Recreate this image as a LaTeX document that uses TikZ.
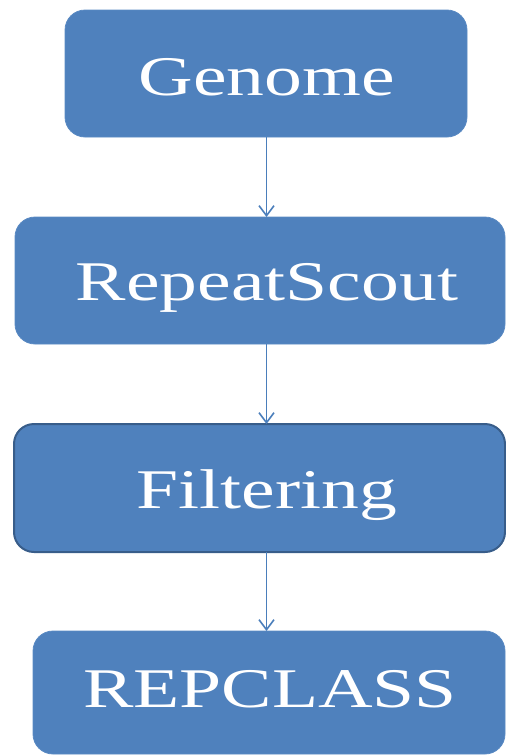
\documentclass[tikz,border=0pt]{standalone}
\usepackage{fontspec}
\setmainfont{Liberation Serif}[FakeStretch=1.35]
\usetikzlibrary{arrows.meta}
\definecolor{boxblue}{HTML}{4F81BD}
\definecolor{boxedge}{HTML}{5A8AC3}
\definecolor{darkedge}{HTML}{385D8A}
\definecolor{arrowblue}{HTML}{4A7EBB}
\tikzset{
  x=1pt, y=-1pt,
  flowbox/.style={rectangle, rounded corners=20pt, fill=boxblue, draw=boxedge,
    line width=0.8pt, inner sep=0pt, outer sep=0pt},
  flowtext/.style={anchor=base, text=white, inner sep=0pt,
    font=\fontsize{56}{60}\selectfont},
  flowarrow/.style={draw=arrowblue, line width=1.8pt,
    -{Straight Barb[length=10pt,width=15pt,line width=1.6pt]}}
}
\begin{document}
\begin{tikzpicture}
\useasboundingbox (0,0) rectangle (506,755);
% boxes
\node[flowbox, minimum width=402pt, minimum height=127pt] (genome) at (266,73.5) {};
\node[flowbox, minimum width=490pt, minimum height=127pt] (scout) at (260,280.5) {};
\node[flowbox, draw=darkedge, line width=2pt, minimum width=491pt, minimum height=128pt] (filter) at (259.5,488) {};
\node[flowbox, minimum width=472pt, minimum height=123pt] (repclass) at (269,692.5) {};
% labels
\node[flowtext] (tgenome) at (266.5,95) {Genome};
\node[flowtext] (tscout) at (267,300) {RepeatScout};
\node[flowtext] (tfilter) at (267,508) {Filtering};
\node[flowtext] (trep) at (270,707) {REPCLASS};
% connectors
\draw[flowarrow] (genome.south -| 266.5,0) -- (scout.north -| 266.5,0);
\draw[flowarrow] (scout.south -| 266.5,0) -- (filter.north -| 266.5,0);
\draw[flowarrow] (filter.south -| 266.5,0) -- (repclass.north -| 266.5,0);
\end{tikzpicture}
\end{document}
